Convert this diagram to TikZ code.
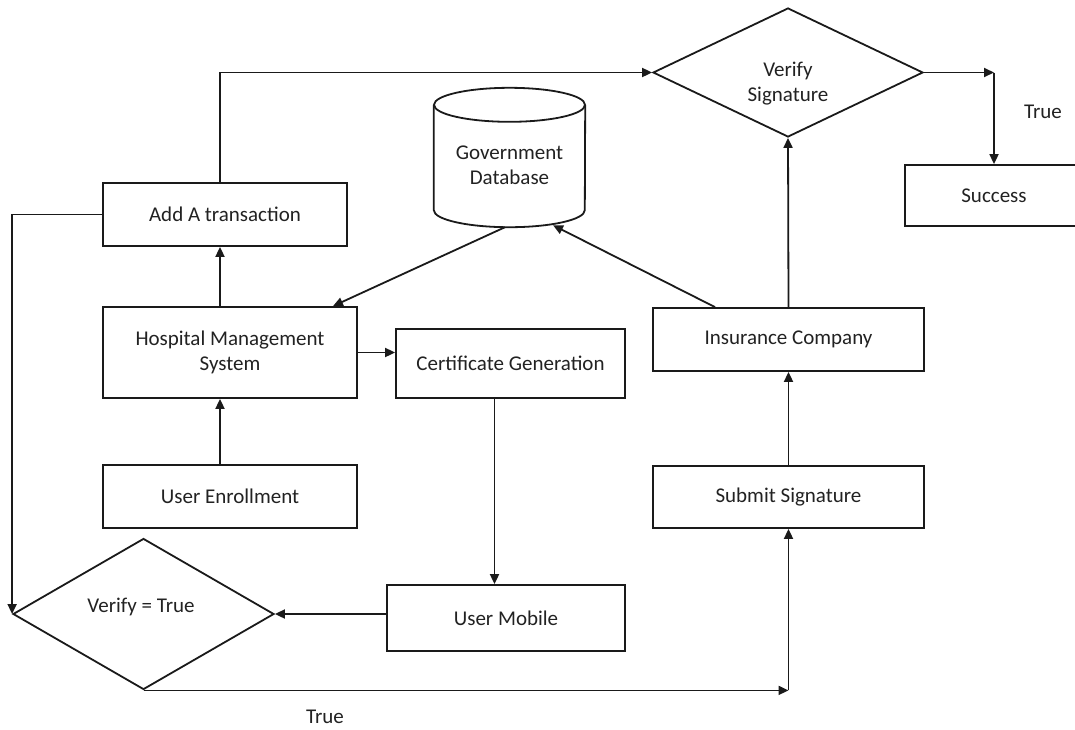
\documentclass[tikz,border=0pt]{standalone}
\usepackage{fontspec}
\setmainfont{Carlito}
\usetikzlibrary{shapes.geometric,arrows.meta,calc}
\definecolor{lncol}{HTML}{1A1A1A}
\definecolor{txcol}{HTML}{222222}
\begin{document}
\begin{tikzpicture}[x=1pt,y=1pt,
  every node/.style={font=\fontsize{21}{25}\selectfont, text=txcol, align=center},
  box/.style={draw=lncol, line width=1.8pt, rectangle, inner sep=0pt},
  dia/.style={draw=lncol, line width=1.8pt, diamond, inner sep=0pt},
  arr/.style={draw=lncol, line width=1.8pt, -{Triangle[length=10pt,width=9pt]}},
  conn/.style={draw=lncol, line width=1.8pt}]
\clip (0,0) rectangle (1075,-729);
\fill[white] (0,0) rectangle (1075,-729);

% boxes
\node[box, minimum width=244pt, minimum height=63pt] (add) at (225,-214.5) {Add A transaction};
\node[box, minimum width=254pt, minimum height=91pt] (hms) at (230,-352.5) {Hospital Management\\System};
\node[box, minimum width=254pt, minimum height=63pt] (ue) at (230,-496.5) {User Enrollment};
\node[box, minimum width=229pt, minimum height=69pt] (cert) at (510.5,-363.5) {Certificate Generation};
\node[box, minimum width=238pt, minimum height=66pt] (um) at (506,-618) {User Mobile};
\node[box, minimum width=271pt, minimum height=63pt] (ins) at (788.5,-339.5) {Insurance Company};
\node[box, minimum width=271pt, minimum height=62pt] (sub) at (788.5,-497) {Submit Signature};
\node[box, minimum width=178pt, minimum height=61pt] (succ) at (994,-195.5) {Success};

% diamonds
\node[dia, minimum width=270pt, minimum height=129pt] (vs) at (788,-72.5) {};
\node (vstext) at (788,-84) {Verify\\Signature};
\node[dia, minimum width=261pt, minimum height=151pt] (vt) at (143.5,-614) {};
\node (vttext) at (141,-607) {Verify = True};

% database cylinder
\node[minimum width=151pt, minimum height=139pt, inner sep=0pt] (db) at (509.5,-157.5) {};
\draw[conn] ($(db.north)+(0,-17)$) ellipse [x radius=75.5pt, y radius=17pt];
\draw[conn] ($(db.north west)+(0,-17)$) -- ($(db.south west)+(0,17)$)
  arc[start angle=180, end angle=360, x radius=75.5pt, y radius=17pt]
  -- ($(db.north east)+(0,-17)$);
\node (dbtext) at (509.5,-165) {Government\\Database};

% labels
\node (t1) at (1043,-112) {True};
\node (t2) at (325,-717) {True};

% connectors
\draw[arr] ([xshift=-10pt]hms.north) -- ([xshift=-5pt]add.south);
\draw[arr] ([xshift=-5pt]add.north) |- (vs.west);
\draw[arr] (add.west) -| (vt.west);
\draw[arr] ([xshift=-10pt]ue.north) -- ([xshift=-10pt]hms.south);
\draw[arr] ([xshift=-4.5pt]db.south) -- ([xshift=103pt]hms.north);
\draw[arr] ([xshift=-73.5pt]ins.north) -- ([xshift=43.5pt,yshift=2pt]db.south);
\draw[arr] (hms.east) -- (hms.east -| cert.west);
\draw[arr] ([xshift=-16pt]cert.south) -- ([xshift=-16pt]cert.south |- um.north);
\draw[arr] (vt.east -| um.west) -- (vt.east);
\coordinate (c1) at (vt.south -| sub.south);
\draw[arr] (vt.south) -- (c1);
\draw[arr] (c1) -- (sub.south);
\draw[arr] (sub.north) -- (ins.south);
\draw[arr] (ins.north) -- (vs.south);
\coordinate (c2) at (vs.east -| succ.north);
\draw[arr] (vs.east) -- (c2);
\draw[arr] (c2) -- (succ.north);
\end{tikzpicture}
\end{document}
